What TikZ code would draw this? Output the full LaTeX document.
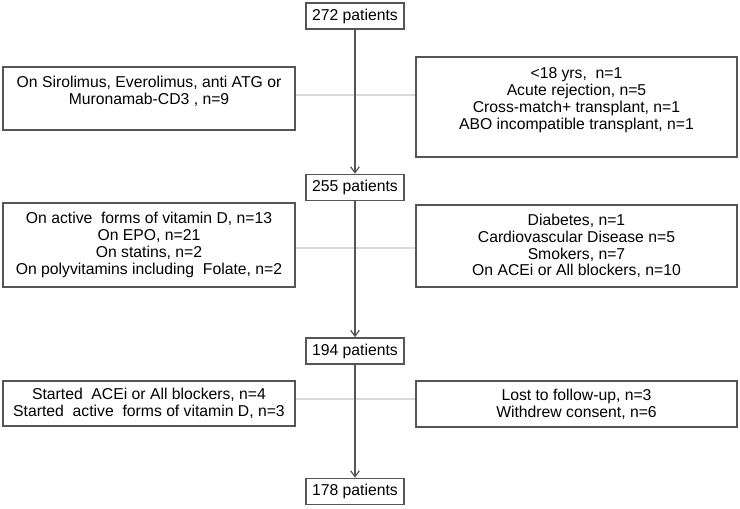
\documentclass[tikz,border=0pt]{standalone}
\usepackage{fontspec}
\setmainfont{Liberation Sans}
\usetikzlibrary{arrows.meta}

\definecolor{boxgray}{HTML}{555555}
\definecolor{cutgray}{HTML}{D9D9D9}

\tikzset{
  flowbox/.style={draw=boxgray, line width=1.1pt, align=center, inner sep=0pt,
    font=\fontsize{11.8}{12.6}\selectfont},
  mainbox/.style={flowbox, minimum width=73.5pt, minimum height=19.5pt},
  sidebox/.style={flowbox, minimum width=219pt},
  rightbox/.style={flowbox, minimum width=240.75pt},
  flowarrow/.style={draw=boxgray, line width=0.9pt, -{Straight Barb[length=4.5pt,width=6.5pt]}},
  cutline/.style={draw=cutgray, line width=1pt}
}

\begin{document}
\begin{tikzpicture}[x=0.75pt,y=0.75pt,yscale=-1]

\useasboundingbox (0,0) rectangle (740,509);

% patient counts
\node [mainbox] (p272) at (355,16) {272 patients};
\node [mainbox] (p255) at (355,187.5) {255 patients};
\node [mainbox] (p194) at (355,351) {194 patients};
\node [mainbox] (p178) at (355,491.5) {178 patients};

% exclusions
\node [sidebox, minimum height=47.25pt] (ex1l) at (149,98.5)
  {On Sirolimus, Everolimus, anti ATG or\\ Muronamab-CD3 , n=9\\ \mbox{}};
\node [rightbox, minimum height=75pt] (ex1r) at (576.5,107)
  {<18 yrs,\ \ n=1\\ Acute rejection, n=5\\ Cross-match+ transplant, n=1\\ ABO incompatible transplant, n=1\\ \mbox{}};
\node [sidebox, minimum height=63pt] (ex2l) at (149,245)
  {On active\ \ forms of vitamin D, n=13\\ On EPO, n=21\\ On statins, n=2\\ On polyvitamins including\ \ Folate, n=2};
\node [rightbox, minimum height=61.5pt] (ex2r) at (576.5,246)
  {Diabetes, n=1\\ Cardiovascular Disease n=5\\ Smokers, n=7\\ On ACEi or All blockers, n=10};
\node [sidebox, minimum height=33.75pt] (ex3l) at (149,403.5)
  {Started\ \ ACEi or All blockers, n=4\\ Started\ \ active\ \ forms of vitamin D, n=3};
\node [rightbox, minimum height=34.5pt] (ex3r) at (576.5,404)
  {Lost to follow-up, n=3\\ Withdrew consent, n=6};

% where the side lines cross the arrows
\coordinate (cut1) at (355,95);
\coordinate (cut2) at (355,248);
\coordinate (cut3) at (355,399);

\draw [cutline] (ex1l.east |- cut1) -- (ex1r.west |- cut1);
\draw [cutline] (ex2l.east |- cut2) -- (ex2r.west |- cut2);
\draw [cutline] (ex3l.east |- cut3) -- (ex3r.west |- cut3);

\draw [flowarrow] (p272) -- (p255);
\draw [flowarrow] (p255) -- (p194);
\draw [flowarrow] (p194) -- (p178);

\end{tikzpicture}
\end{document}
